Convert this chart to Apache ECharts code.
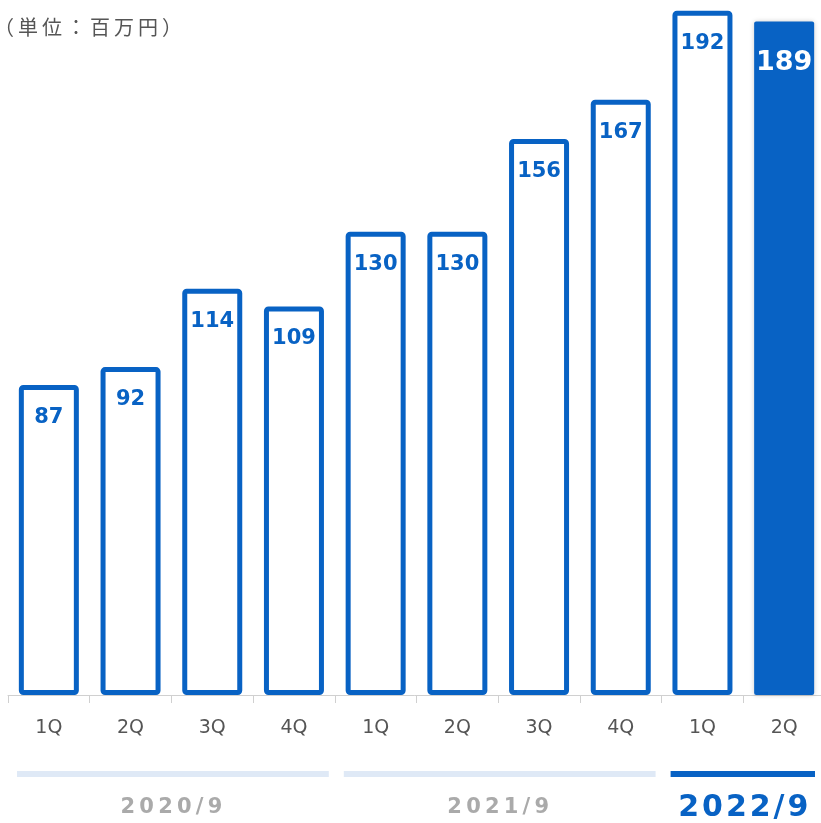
<!DOCTYPE html>
<html>
<head>
<meta charset="utf-8">
<script src="https://cdn.jsdelivr.net/npm/echarts@6/dist/echarts.min.js"></script>
<style>
  html, body { margin: 0; padding: 0; background: #fff; }
  #chart { width: 821px; height: 823px; }
</style>
</head>
<body>
<div id="chart"></div>
<script>
const quarters = ["1Q", "2Q", "3Q", "4Q", "1Q", "2Q", "3Q", "4Q", "1Q", "2Q"];
const sales = [87, 92, 114, 109, 130, 130, 156, 167, 192, 189];
// fiscal year groups: label, first index, last index
const years = ["2020/9", "2021/9", "2022/9"];
const yearStart = [0, 4, 8];
const yearEnd = [3, 7, 9];

const blue = "#0862c4";
const pale = "#dfe9f6";
const font = "DejaVu Sans";
const last = sales.length - 1;

const chart = echarts.init(document.getElementById("chart"));

const barData = sales.map((v, i) => {
  if (i !== last) return v;
  return {
    value: v,
    itemStyle: { color: blue, borderWidth: 0, shadowBlur: 5, shadowColor: "rgba(0,0,0,0.2)" },
    label: { color: "#fff", fontSize: 27, distance: 28 }
  };
});

chart.setOption({
  animation: false,
  grid: { left: 8, width: 817, top: 0, bottom: 128, outerBoundsMode: "none" },
  xAxis: {
    type: "category",
    data: quarters,
    axisLine: { lineStyle: { color: "#d0d0d0", width: 1 } },
    axisTick: { show: true, length: 8, lineStyle: { color: "#d0d0d0" } },
    axisLabel: { color: "#555", fontSize: 19, fontFamily: font, margin: 24 }
  },
  yAxis: {
    type: "value",
    min: 0,
    max: 195,
    show: false,
    splitLine: { show: false }
  },
  series: [
    {
      type: "bar",
      data: barData,
      barWidth: 60,
      itemStyle: {
        color: "#fff",
        borderColor: blue,
        borderWidth: 5,
        borderRadius: 2
      },
      label: {
        show: true,
        position: "insideTop",
        distance: 22,
        color: blue,
        fontSize: 21,
        fontWeight: "bold",
        fontFamily: font
      }
    }
  ]
});

// fiscal-year bands and labels under the axis
const band = 817 / quarters.length;
const spaced = (s, sp) => s.split("").join(sp);
const els = [
  {
    type: "text",
    x: -6,
    y: 17,
    style: { text: spaced("（単位：百万円）", "\u2009"), fill: "#555", font: '20px "Noto Sans CJK JP"' }
  }
];
years.forEach((y, g) => {
  const x0 = chart.convertToPixel({ xAxisIndex: 0 }, yearStart[g]) - band / 2;
  const x1 = chart.convertToPixel({ xAxisIndex: 0 }, yearEnd[g]) + band / 2;
  const current = g === years.length - 1;
  const a = x0 + 9;
  const b = Math.min(x1 - 6, 815);
  els.push({
    type: "rect",
    shape: { x: a, y: 771, width: b - a, height: 6 },
    style: { fill: current ? blue : pale }
  });
  els.push({
    type: "text",
    x: (x0 + x1) / 2,
    y: 808,
    style: {
      text: spaced(y, current ? "\u200A" : "\u2009"),
      fill: current ? blue : "#aaa",
      font: "bold " + (current ? 30 : 21) + "px " + font,
      align: "center",
      verticalAlign: "middle"
    }
  });
});
chart.setOption({ graphic: els });
</script>
</body>
</html>
